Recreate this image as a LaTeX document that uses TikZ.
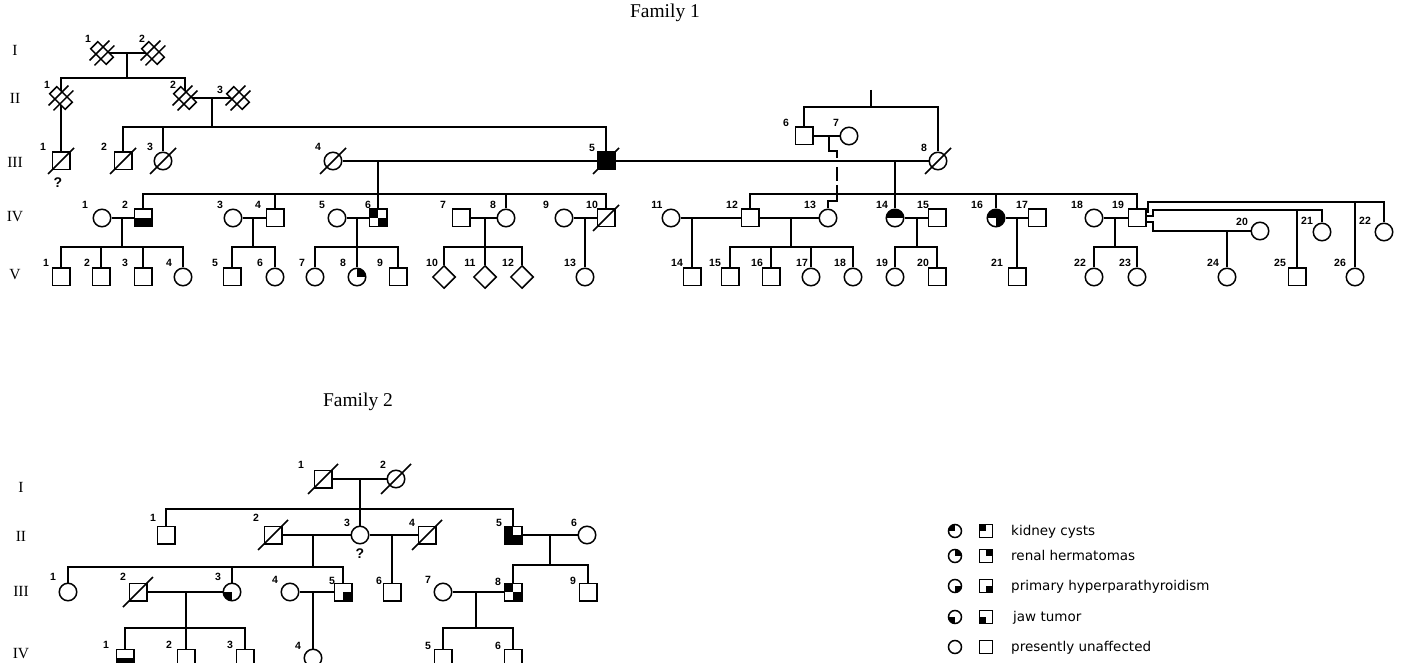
\documentclass[tikz,border=0pt]{standalone}
\usepackage{fontspec}
\setmainfont{Liberation Serif}
\newfontfamily\numfont{Liberation Sans}
\newfontfamily\legfont{DejaVu Sans}
\usetikzlibrary{shapes.geometric,calc}

\tikzset{
  ln/.style={line width=1.6pt},
  sq/.style={draw, rectangle, minimum size=17.5pt, inner sep=0pt, line width=1.5pt, fill=white},
  ci/.style={draw, circle, minimum size=17.5pt, inner sep=0pt, line width=1.5pt, fill=white},
  di/.style={draw, diamond, minimum width=23pt, minimum height=23pt, inner sep=0pt, line width=1.5pt, fill=white},
  hid/.style={circle, minimum size=14pt, inner sep=0pt},
  num/.style={font=\numfont\bfseries\fontsize{10.5}{11}\selectfont, inner sep=0pt},
  qm/.style={font=\numfont\bfseries\fontsize{14}{14}\selectfont, inner sep=0pt},
  gen/.style={font=\fontsize{15.5}{15.5}\selectfont, inner sep=0pt},
  famtitle/.style={font=\fontsize{19.5}{19.5}\selectfont, inner sep=0pt},
  legci/.style={draw, circle, minimum size=13pt, inner sep=0pt, line width=1.5pt, fill=white},
  legsq/.style={draw, rectangle, minimum size=13pt, inner sep=0pt, line width=1.5pt, fill=white},
  legtext/.style={font=\legfont\fontsize{13.5}{14}\selectfont, inner sep=0pt, anchor=base west},
  quads/.style n args={4}{path picture={%
    \ifnum#1=1 \fill[black] (path picture bounding box.north west) rectangle (path picture bounding box.center);\fi
    \ifnum#2=1 \fill[black] (path picture bounding box.north east) rectangle (path picture bounding box.center);\fi
    \ifnum#3=1 \fill[black] (path picture bounding box.south west) rectangle (path picture bounding box.center);\fi
    \ifnum#4=1 \fill[black] (path picture bounding box.south east) rectangle (path picture bounding box.center);\fi
  }},
  dblsym/.pic={
    \draw[line width=1.5pt, fill=white] (11.31,4.24) -- (4.24,11.31) -- (-11.31,-4.24) -- (-4.24,-11.31) -- cycle;
    \draw[line width=1.5pt] (-7.43,12.37) -- (12.37,-7.43);
    \draw[line width=1.5pt] (-12.37,7.43) -- (7.43,-12.37);
  },
}

% style, name, position, label, label offset
\newcommand\pers[5]{%
  \node[#1] (#2) at (#3) {};
  \node[num] (#2l) at ([shift={(#5)}]#2.center) {#4};}
\newcommand\deceased[2]{\draw[ln] ([shift={(-#2,#2)}]#1.center) -- ([shift={(#2,-#2)}]#1.center);}

\begin{document}
\begin{tikzpicture}[x=1pt, y=-1pt]
\useasboundingbox (0,0) rectangle (1401,663);
\fill[white] (0,0) rectangle (1401,663);
\clip (0,0) rectangle (1401,663);

% ---------------- titles and generation labels
\node[famtitle] (t1) at (665,13) {Family 1};
\node[famtitle] (t2) at (358,402) {Family 2};
\node[gen] (g1a) at (15,50) {I};
\node[gen] (g1b) at (15,98) {II};
\node[gen] (g1c) at (15,162) {III};
\node[gen] (g1d) at (15,217) {IV};
\node[gen] (g1e) at (15,275) {V};
\node[gen] (g2a) at (21,487) {I};
\node[gen] (g2b) at (21,536) {II};
\node[gen] (g2c) at (21,591) {III};
\node[gen] (g2d) at (21,654) {IV};

% ================= FAMILY 1 =================
% Gen I, II
\pers{hid}{f1I1}{102,53}{1}{-14,-14}
\pers{hid}{f1I2}{153,53}{2}{-11,-14}
\pers{hid}{f1II1}{61,98}{1}{-14,-13}
\pers{hid}{f1II2}{185,98}{2}{-12,-13}
\pers{hid}{f1II3}{238,98}{3}{-18,-8}
% Gen III
\pers{sq}{f1III1}{61,161}{1}{-18,-14}
\pers{sq}{f1III2}{123,161}{2}{-19,-14}
\pers{ci}{f1III3}{163,161}{3}{-13,-14}
\pers{ci}{f1III4}{333,161}{4}{-15,-14}
\pers{sq,fill=black}{f1III5}{606,161}{5}{-14,-13}
\pers{sq}{f1III6}{804,136}{6}{-18,-13}
\pers{ci}{f1III7}{849,136}{7}{-13,-13}
\pers{ci}{f1III8}{938,161}{8}{-14,-13}
% Gen IV
\pers{ci}{f1IV1}{102,218}{1}{-17,-13}
\pers{sq,quads={0}{0}{1}{1}}{f1IV2}{143,218}{2}{-18,-13}
\pers{ci}{f1IV3}{233,218}{3}{-13,-13}
\pers{sq}{f1IV4}{275,218}{4}{-17,-13}
\pers{ci}{f1IV5}{337,218}{5}{-15,-13}
\pers{sq,quads={1}{0}{0}{1}}{f1IV6}{378,218}{6}{-10,-13}
\pers{sq}{f1IV7}{461,218}{7}{-18,-13}
\pers{ci}{f1IV8}{506,218}{8}{-13,-13}
\pers{ci}{f1IV9}{564,218}{9}{-18,-13}
\pers{sq}{f1IV10}{606,218}{10}{-14,-13}
\pers{ci}{f1IV11}{671,218}{11}{-14,-13}
\pers{sq}{f1IV12}{750,218}{12}{-18,-13}
\pers{ci}{f1IV13}{828,218}{13}{-18,-13}
\pers{ci,quads={1}{1}{0}{0}}{f1IV14}{895,218}{14}{-13,-13}
\pers{sq}{f1IV15}{937,218}{15}{-14,-13}
\pers{ci,quads={1}{1}{0}{1}}{f1IV16}{996,218}{16}{-19,-13}
\pers{sq}{f1IV17}{1037,218}{17}{-15,-13}
\pers{ci}{f1IV18}{1094,218}{18}{-17,-13}
\pers{sq}{f1IV19}{1137,218}{19}{-19,-13}
\pers{ci}{f1IV20}{1260,231}{20}{-18,-9}
\pers{ci}{f1IV21}{1322,232}{21}{-15,-11}
\pers{ci}{f1IV22}{1384,232}{22}{-19,-11}
% Gen V
\pers{sq}{f1V1}{61,277}{1}{-15,-14}
\pers{sq}{f1V2}{101,277}{2}{-14,-14}
\pers{sq}{f1V3}{143,277}{3}{-18,-14}
\pers{ci}{f1V4}{183,277}{4}{-14,-14}
\pers{sq}{f1V5}{232,277}{5}{-17,-14}
\pers{ci}{f1V6}{275,277}{6}{-15,-14}
\pers{ci}{f1V7}{315,277}{7}{-13,-14}
\pers{ci,quads={0}{1}{0}{0}}{f1V8}{357,277}{8}{-14,-14}
\pers{sq}{f1V9}{398,277}{9}{-18,-14}
\pers{di}{f1V10}{444,277}{10}{-12,-14}
\pers{di}{f1V11}{485,277}{11}{-15,-14}
\pers{di}{f1V12}{522,277}{12}{-14,-14}
\pers{ci}{f1V13}{585,277}{13}{-15,-14}
\pers{sq}{f1V14}{692,277}{14}{-15,-14}
\pers{sq}{f1V15}{730,277}{15}{-15,-14}
\pers{sq}{f1V16}{771,277}{16}{-14,-14}
\pers{ci}{f1V17}{811,277}{17}{-9,-14}
\pers{ci}{f1V18}{853,277}{18}{-13,-14}
\pers{ci}{f1V19}{895,277}{19}{-13,-14}
\pers{sq}{f1V20}{937,277}{20}{-14,-14}
\pers{sq}{f1V21}{1017,277}{21}{-20,-14}
\pers{ci}{f1V22}{1094,277}{22}{-14,-14}
\pers{ci}{f1V23}{1137,277}{23}{-12,-14}
\pers{ci}{f1V24}{1227,277}{24}{-14,-14}
\pers{sq}{f1V25}{1297,277}{25}{-17,-14}
\pers{ci}{f1V26}{1355,277}{26}{-15,-14}
\node[qm] (f1q) at (58,183) {?};

% junction coordinates
\coordinate (f1mI) at (127,53);   \coordinate (f1sI) at (127,78);
\coordinate (f1mII) at (212,98);  \coordinate (f1sII) at (212,127);
\coordinate (f1mIIIa) at (378,161); \coordinate (f1sIVa) at (378,194);
\coordinate (f1mIIIb) at (895,161); \coordinate (f1sIVb) at (895,194);
\coordinate (f1t0) at (871,90);   \coordinate (f1t1) at (871,107);
\coordinate (f1m67) at (829,136); \coordinate (f1a1) at (829,151);
\coordinate (f1a2) at (837,151);  \coordinate (f1a3) at (837,158);
\coordinate (f1a4) at (837,167);  \coordinate (f1a5) at (837,196);
\coordinate (f1a6) at (837,201);  \coordinate (f1a7) at (828,201);

\begin{scope}[ln]
\draw (f1I1) -- (f1I2);
\draw (f1mI) -- (f1sI);
\draw (f1sI) -| (f1II1);
\draw (f1sI) -| (f1II2);
\draw (f1II2) -- (f1II3);
\draw (f1mII) -- (f1sII);
\draw (f1sII) -| (f1III2);
\draw (f1sII) -| (f1III3);
\draw (f1sII) -| (f1III5);
\draw (f1II1) -- (f1III1);
\draw (f1III4) -- (f1III5);
\draw (f1III5) -- (f1III8);
\draw (f1mIIIa) -- (f1IV6);
\draw (f1sIVa) -| (f1IV2);
\draw (f1sIVa) -| (f1IV4);
\draw (f1sIVa) -| (f1IV8);
\draw (f1sIVa) -| (f1IV10);
\draw (f1mIIIb) -- (f1IV14);
\draw (f1sIVb) -| (f1IV12);
\draw (f1sIVb) -| (f1IV16);
\draw (f1sIVb) -| (f1IV19);
\draw (f1t0) -- (f1t1);
\draw (f1t1) -| (f1III6);
\draw (f1t1) -| (f1III8);
\draw (f1III6) -- (f1III7);
\draw (f1m67) -- (f1a1) -- (f1a2) -- (f1a3);
\draw[dash pattern=on 14pt off 4pt] (f1a4) -- (f1a5);
\draw (f1a5) -- (f1a6) -- (f1a7) -- (f1IV13);
% gen IV couples
\coordinate (f1m1) at (122,218); \coordinate (f1s1) at (122,247);
\draw (f1IV1) -- (f1IV2); \draw (f1m1) -- (f1s1);
\draw (f1s1) -| (f1V1); \draw (f1s1) -| (f1V2); \draw (f1s1) -| (f1V3); \draw (f1s1) -| (f1V4);
\coordinate (f1m2) at (253,218); \coordinate (f1s2) at (253,247);
\draw (f1IV3) -- (f1IV4); \draw (f1m2) -- (f1s2);
\draw (f1s2) -| (f1V5); \draw (f1s2) -| (f1V6);
\coordinate (f1m3) at (357,218); \coordinate (f1s3) at (357,247);
\draw (f1IV5) -- (f1IV6); \draw (f1m3) -- (f1V8);
\draw (f1s3) -| (f1V7); \draw (f1s3) -| (f1V9);
\coordinate (f1m4) at (485,218); \coordinate (f1s4) at (485,247);
\draw (f1IV7) -- (f1IV8); \draw (f1m4) -- (f1V11);
\draw (f1s4) -| (f1V10); \draw (f1s4) -| (f1V12);
\coordinate (f1m5) at (585,218);
\draw (f1IV9) -- (f1IV10); \draw (f1m5) -- (f1V13);
\coordinate (f1m6) at (692,218);
\draw (f1IV11) -- (f1IV12); \draw (f1m6) -- (f1V14);
\coordinate (f1m7) at (791,218); \coordinate (f1s7) at (791,247);
\draw (f1IV12) -- (f1IV13); \draw (f1m7) -- (f1s7);
\draw (f1s7) -| (f1V15); \draw (f1s7) -| (f1V16); \draw (f1s7) -| (f1V17); \draw (f1s7) -| (f1V18);
\coordinate (f1m8) at (917,218); \coordinate (f1s8) at (917,247);
\draw (f1IV14) -- (f1IV15); \draw (f1m8) -- (f1s8);
\draw (f1s8) -| (f1V19); \draw (f1s8) -| (f1V20);
\coordinate (f1m9) at (1017,218);
\draw (f1IV16) -- (f1IV17); \draw (f1m9) -- (f1V21);
\coordinate (f1m10) at (1115,218); \coordinate (f1s10) at (1115,247);
\draw (f1IV18) -- (f1IV19); \draw (f1m10) -- (f1s10);
\draw (f1s10) -| (f1V22); \draw (f1s10) -| (f1V23);
% IV-19 further unions
\coordinate (f1j22a) at (1148,212); \coordinate (f1j22b) at (1148,202);
\draw (f1IV19.east |- f1j22a) -- (f1j22a) -- (f1j22b) -| (f1IV22);
\coordinate (f1j21a) at (1153,216); \coordinate (f1j21b) at (1153,210);
\draw (f1IV19.east |- f1j21a) -- (f1j21a) -- (f1j21b) -| (f1IV21);
\coordinate (f1j20a) at (1153,222); \coordinate (f1j20b) at (1153,231);
\draw (f1IV19.east |- f1j20a) -- (f1j20a) -- (f1j20b) -- (f1IV20);
\coordinate (f1m24) at (1227,231); \draw (f1m24) -- (f1V24);
\coordinate (f1m25) at (1297,210); \draw (f1m25) -- (f1V25);
\coordinate (f1m26) at (1355,202); \draw (f1m26) -- (f1V26);
\end{scope}

% deceased marks
\deceased{f1III1}{13}
\deceased{f1III2}{13}
\deceased{f1III3}{13}
\deceased{f1III4}{13}
\deceased{f1III5}{13}
\deceased{f1III8}{13}
\deceased{f1IV10}{13}
\pic at (f1I1) {dblsym};
\pic at (f1I2) {dblsym};
\pic at (f1II1) {dblsym};
\pic at (f1II2) {dblsym};
\pic at (f1II3) {dblsym};

% ================= FAMILY 2 =================
\pers{sq}{f2I1}{323,479}{1}{-22,-14}
\pers{ci}{f2I2}{396,479}{2}{-13,-14}
\pers{sq}{f2II1}{166,535}{1}{-13,-17}
\pers{sq}{f2II2}{273,535}{2}{-17,-17}
\pers{ci}{f2II3}{360,535}{3}{-13,-12}
\pers{sq}{f2II4}{427,535}{4}{-15,-12}
\pers{sq,quads={1}{0}{1}{1}}{f2II5}{513,535}{5}{-14,-12}
\pers{ci}{f2II6}{587,535}{6}{-13,-12}
\pers{ci}{f2III1}{68,592}{1}{-15,-15}
\pers{sq}{f2III2}{138,592}{2}{-15,-15}
\pers{ci,quads={0}{0}{1}{0}}{f2III3}{232,592}{3}{-14,-15}
\pers{ci}{f2III4}{290,592}{4}{-15,-12}
\pers{sq,quads={0}{0}{0}{1}}{f2III5}{343,592}{5}{-11,-11}
\pers{sq}{f2III6}{392,592}{6}{-13,-11}
\pers{ci}{f2III7}{443,592}{7}{-15,-12}
\pers{sq,quads={1}{0}{0}{1}}{f2III8}{513,592}{8}{-15,-10}
\pers{sq}{f2III9}{588,592}{9}{-15,-11}
\pers{sq,quads={0}{0}{1}{1}}{f2IV1}{125,658}{1}{-19,-13}
\pers{sq}{f2IV2}{186,658}{2}{-17,-13}
\pers{sq}{f2IV3}{245,658}{3}{-15,-13}
\pers{ci}{f2IV4}{313,658}{4}{-15,-12}
\pers{sq}{f2IV5}{443,658}{5}{-15,-12}
\pers{sq}{f2IV6}{513,658}{6}{-15,-12}
\node[qm] (f2q) at (360,554) {?};

\begin{scope}[ln]
\coordinate (f2mI) at (360,479); \coordinate (f2sI) at (360,509);
\draw (f2I1) -- (f2I2); \draw (f2mI) -- (f2II3);
\draw (f2sI) -| (f2II1); \draw (f2sI) -| (f2II5);
\coordinate (f2mII) at (313,535); \coordinate (f2sII) at (313,567);
\draw (f2II2) -- (f2II3); \draw (f2mII) -- (f2sII);
\draw (f2sII) -| (f2III1); \draw (f2sII) -| (f2III3); \draw (f2sII) -| (f2III5);
\coordinate (f2mII2) at (392,535);
\draw (f2II3) -- (f2II4); \draw (f2mII2) -- (f2III6);
\coordinate (f2mII3) at (550,535); \coordinate (f2sII3) at (550,565);
\draw (f2II5) -- (f2II6); \draw (f2mII3) -- (f2sII3);
\draw (f2sII3) -| (f2III8); \draw (f2sII3) -| (f2III9);
\coordinate (f2mIII1) at (186,592); \coordinate (f2sIII1) at (186,628);
\draw (f2III2) -- (f2III3); \draw (f2mIII1) -- (f2IV2);
\draw (f2sIII1) -| (f2IV1); \draw (f2sIII1) -| (f2IV3);
\coordinate (f2mIII2) at (313,592);
\draw (f2III4) -- (f2III5); \draw (f2mIII2) -- (f2IV4);
\coordinate (f2mIII3) at (476,592); \coordinate (f2sIII3) at (476,628);
\draw (f2III7) -- (f2III8); \draw (f2mIII3) -- (f2sIII3);
\draw (f2sIII3) -| (f2IV5); \draw (f2sIII3) -| (f2IV6);
\end{scope}

\deceased{f2I1}{15}
\deceased{f2I2}{15}
\deceased{f2II2}{15}
\deceased{f2II4}{15}
\deceased{f2III2}{15}

% ================= LEGEND =================
\node[legci,quads={1}{0}{0}{0}] (lc1) at (955,531) {};
\node[legsq,quads={1}{0}{0}{0}] (ls1) at (986,531) {};
\node[legtext] (lt1) at (1011,535) {kidney cysts};
\node[legci,quads={0}{1}{0}{0}] (lc2) at (955,556) {};
\node[legsq,quads={0}{1}{0}{0}] (ls2) at (986,556) {};
\node[legtext] (lt2) at (1011,560) {renal hermatomas};
\node[legci,quads={0}{0}{0}{1}] (lc3) at (955,586) {};
\node[legsq,quads={0}{0}{0}{1}] (ls3) at (986,586) {};
\node[legtext] (lt3) at (1011,590) {primary hyperparathyroidism};
\node[legci,quads={0}{0}{1}{0}] (lc4) at (955,617) {};
\node[legsq,quads={0}{0}{1}{0}] (ls4) at (986,617) {};
\node[legtext] (lt4) at (1013,621) {jaw tumor};
\node[legci] (lc5) at (955,647) {};
\node[legsq] (ls5) at (986,647) {};
\node[legtext] (lt5) at (1011,651) {presently unaffected};

\end{tikzpicture}
\end{document}
